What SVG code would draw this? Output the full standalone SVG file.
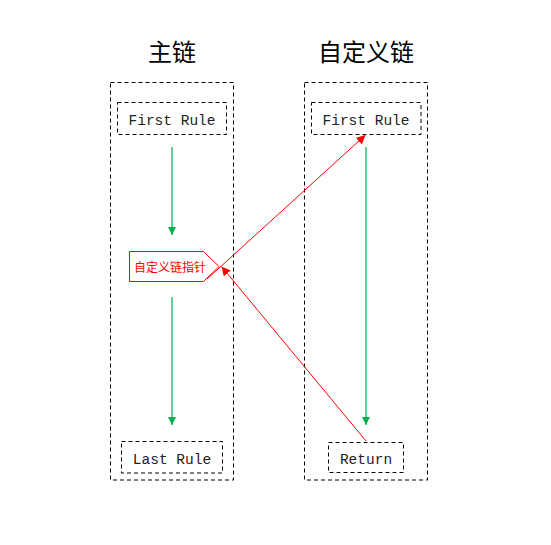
<svg xmlns="http://www.w3.org/2000/svg" width="551" height="545" viewBox="0 0 551 545">
<defs>
<style>
.box{fill:none;stroke:#000;stroke-width:1;stroke-dasharray:4 3}
.mono{font-family:"Liberation Mono","DejaVu Sans Mono",monospace;font-size:14.5px;fill:#222;text-anchor:middle}
.title{font-family:"Noto Sans CJK SC","Noto Sans",sans-serif;font-size:24px;fill:#000;text-anchor:middle}
.g{stroke:#00B050;stroke-width:1.2;fill:none}
.r{stroke:#FF0000;stroke-width:1;fill:none}
</style>
<marker id="ag" viewBox="0 0 10 10" refX="10" refY="5" markerWidth="8" markerHeight="8" markerUnits="userSpaceOnUse" orient="auto"><path d="M0,0 L10,5 L0,10 Z" fill="#00B050"/></marker>
<marker id="ar" viewBox="0 0 10 10" refX="10" refY="5" markerWidth="9" markerHeight="9" markerUnits="userSpaceOnUse" orient="auto"><path d="M0,0 L10,5 L0,10 Z" fill="#FF0000"/></marker>
</defs>
<rect width="551" height="545" fill="#fff"/>
<g id="main-chain">
<text class="title" x="172" y="61">主链</text>
<rect class="box" x="110.5" y="82.5" width="123" height="397.5"/>
</g>
<g id="custom-chain">
<text class="title" x="366" y="61">自定义链</text>
<rect class="box" x="304.5" y="82.5" width="123" height="397.5"/>
</g>
<g id="main-first-rule">
<rect class="box" x="117.5" y="102.5" width="109" height="32"/>
<text class="mono" x="172" y="124.5">First Rule</text>
</g>
<g id="pointer">
<path d="M129.5 251.5 H203.5 L219 266.5 L203.5 281.5 H129.5 Z" fill="#fff" stroke="#FF0000" stroke-width="1"/>
<text x="170" y="272" font-family="Noto Sans CJK SC,sans-serif" font-size="12px" fill="#FF0000" text-anchor="middle">自定义链指针</text>
</g>
<g id="main-last-rule">
<rect class="box" x="121.5" y="441.5" width="101" height="31.5"/>
<text class="mono" x="172" y="464">Last Rule</text>
</g>
<g id="custom-first-rule">
<rect class="box" x="311.5" y="102.5" width="109.5" height="32"/>
<text class="mono" x="366" y="124.5">First Rule</text>
</g>
<g id="return">
<rect class="box" x="328.5" y="442.5" width="75" height="30"/>
<text class="mono" x="366" y="464">Return</text>
</g>
<g id="connectors">
<line class="g" x1="172" y1="147" x2="172" y2="235" marker-end="url(#ag)"/>
<line class="g" x1="172" y1="297" x2="172" y2="425" marker-end="url(#ag)"/>
<line class="g" x1="366" y1="147" x2="366" y2="425" marker-end="url(#ag)"/>
<line class="r" x1="207" y1="279" x2="365.5" y2="135" marker-end="url(#ar)"/>
<line class="r" x1="366" y1="441" x2="221.5" y2="266.5" marker-end="url(#ar)"/>
</g>
</svg>
